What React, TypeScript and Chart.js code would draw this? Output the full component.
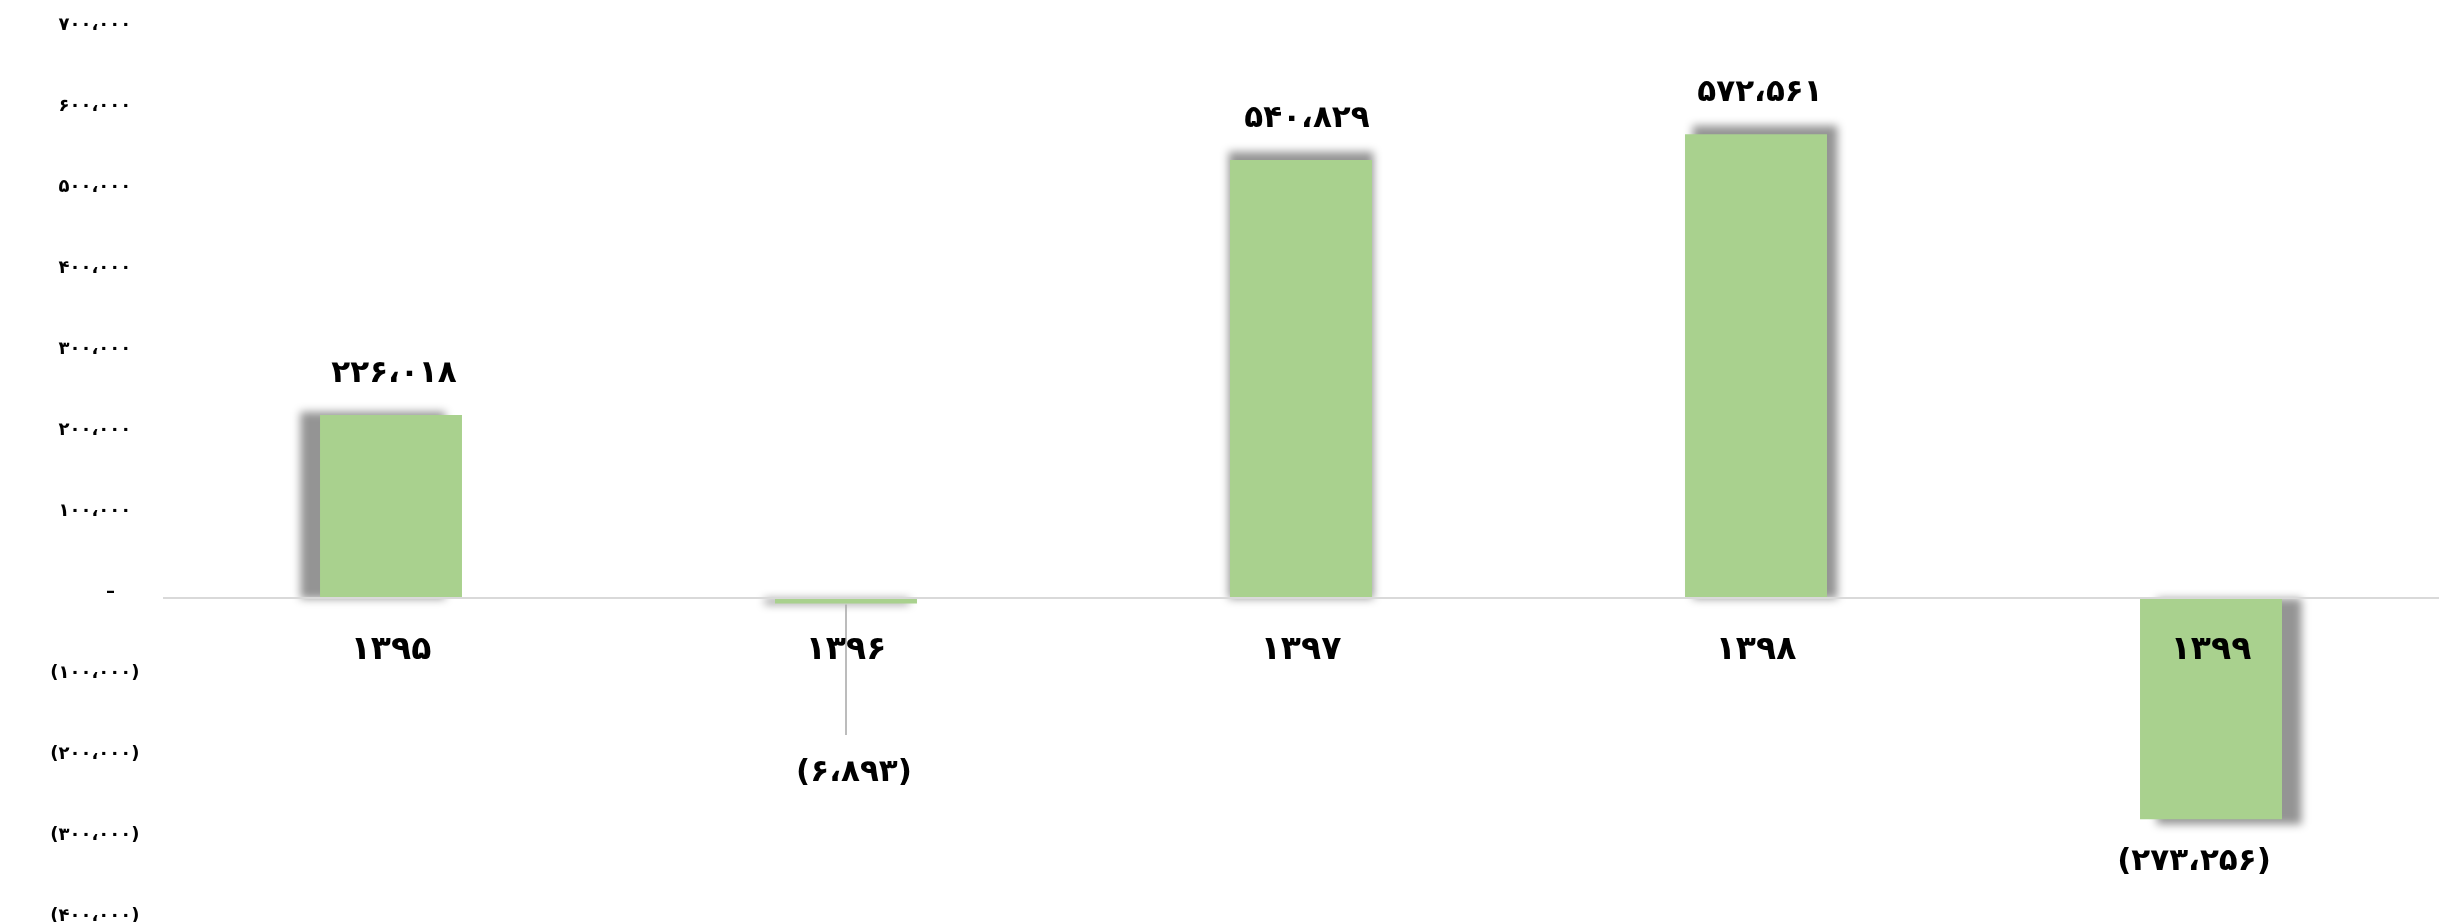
import React, { useEffect, useRef } from "react";
import { Chart, registerables } from "chart.js";

Chart.register(...registerables);

// ---- data ----
const categories: string[] = ["۱۳۹۵", "۱۳۹۶", "۱۳۹۷", "۱۳۹۸", "۱۳۹۹"];
const values: number[] = [226018, -6893, 540829, 572561, -273256];
const yMin = -400000;
const yMax = 700000;
const yStep = 100000;

// ---- styling ----
const FONT = "'DejaVu Sans', sans-serif";
const BAR_COLOR = "#A9D18E";
// per-label nudges [dx, dy] (Excel labels were moved by hand)
const LABEL_NUDGE: [number, number][] = [
  [3, 0],
  [8, 126],
  [6, 0],
  [4, 0],
  [-17, 0],
];

const FA_DIGITS = "۰۱۲۳۴۵۶۷۸۹";
function faNum(n: number): string {
  const s = Math.abs(Math.round(n))
    .toString()
    .replace(/\B(?=(\d{3})+(?!\d))/g, ",");
  const t = s.replace(/\d/g, (d) => FA_DIGITS[+d]).replace(/,/g, "،");
  return n < 0 ? "(" + t + ")" : t;
}

const shadowPlugin = {
  id: "barShadow",
  beforeDatasetsDraw(chart: any) {
    const ctx = chart.ctx;
    const meta = chart.getDatasetMeta(0);
    const { left, right, top, bottom } = chart.chartArea;
    const cx = (left + right) / 2;
    const cy = top + 0.6 * (bottom - top);
    const s = 1.02;
    const tx = (v: number) => cx + (v - cx) * s;
    const ty = (v: number) => cy + (v - cy) * s;
    ctx.save();
    ctx.filter = "blur(4px)";
    ctx.fillStyle = "rgba(0,0,0,0.42)";
    meta.data.forEach((bar: any) => {
      const { x, y, base, width } = bar.getProps(["x", "y", "base", "width"], true);
      const x0 = x - width / 2;
      const x1 = x + width / 2;
      const y0 = Math.min(y, base);
      const y1 = Math.max(y, base, Math.min(y, base) + 2);
      ctx.fillRect(tx(x0), ty(y0), tx(x1) - tx(x0), ty(y1) - ty(y0));
    });
    ctx.restore();
  },
};

const labelPlugin = {
  id: "valueLabels",
  afterDatasetsDraw(chart: any) {
    const ctx = chart.ctx;
    const meta = chart.getDatasetMeta(0);
    const data = chart.data.datasets[0].data as number[];
    ctx.save();
    ctx.font = `bold 31px ${FONT}`;
    ctx.fillStyle = "#000";
    ctx.textAlign = "center";
    ctx.textBaseline = "middle";
    meta.data.forEach((bar: any, i: number) => {
      const { x, y, base } = bar.getProps(["x", "y", "base"], true);
      const v = data[i];
      const [dx, dy] = LABEL_NUDGE[i] || [0, 0];
      let ly: number;
      if (v >= 0) ly = y - 41 + dy;
      else ly = Math.max(y, base + 6) + 43 + dy;
      const lx = x + dx;
      if (dy > 40) {
        ctx.save();
        ctx.strokeStyle = "#a6a6a6";
        ctx.lineWidth = 1.5;
        ctx.beginPath();
        ctx.moveTo(x, Math.max(y, base) + 1);
        ctx.lineTo(x, ly - 38);
        ctx.stroke();
        ctx.restore();
      }
      ctx.fillText(faNum(v), lx, ly);
    });
    ctx.restore();
  },
};

export default function App() {
  const canvasRef = useRef<HTMLCanvasElement | null>(null);

  useEffect(() => {
    const canvas = canvasRef.current;
    if (!canvas) return;
    const chart = new Chart(canvas, {
      type: "bar",
      data: {
        labels: categories,
        datasets: [
          {
            data: values,
            backgroundColor: BAR_COLOR,
            borderWidth: 0,
            categoryPercentage: 1,
            barPercentage: 0.312,
          },
        ],
      },
      options: {
        responsive: false,
        animation: false,
        devicePixelRatio: 1,
        layout: { padding: { top: 31, right: 19.5, bottom: 0, left: 0 } },
        plugins: {
          legend: { display: false },
          tooltip: { enabled: false },
          title: { display: false },
        },
        scales: {
          x: {
            position: { y: 0 } as any,
            grid: { display: false, drawTicks: false },
            border: { display: true, color: "#d9d9d9", width: 2, z: 1 } as any,
            ticks: {
              z: 2,
              color: "#000",
              font: { family: FONT, size: 33, weight: "bold" },
              padding: 33,
              maxRotation: 0,
              autoSkip: false,
            } as any,
          },
          y: {
            min: yMin,
            max: yMax,
            grid: { display: false, drawTicks: false },
            border: { display: false },
            ticks: {
              stepSize: yStep,
              color: "#000",
              font: { family: FONT, size: 18, weight: "bold" },
              crossAlign: "center",
              padding: 24,
              labelOffset: -6,
              callback: (v: any) => (Number(v) === 0 ? "     –" : faNum(Number(v))),
            },
            afterFit: (s: any) => {
              s.width = 163.5;
              s.paddingTop = 0;
              s.paddingBottom = 0;
            },
          },
        },
      },
      plugins: [shadowPlugin, labelPlugin],
    });
    return () => chart.destroy();
  }, []);

  return (
    <div style={{ position: "absolute", left: 0, top: 0, width: 2458, height: 922, background: "#fff" }}>
      <canvas ref={canvasRef} width={2458} height={922} style={{ display: "block" }} />
    </div>
  );
}
